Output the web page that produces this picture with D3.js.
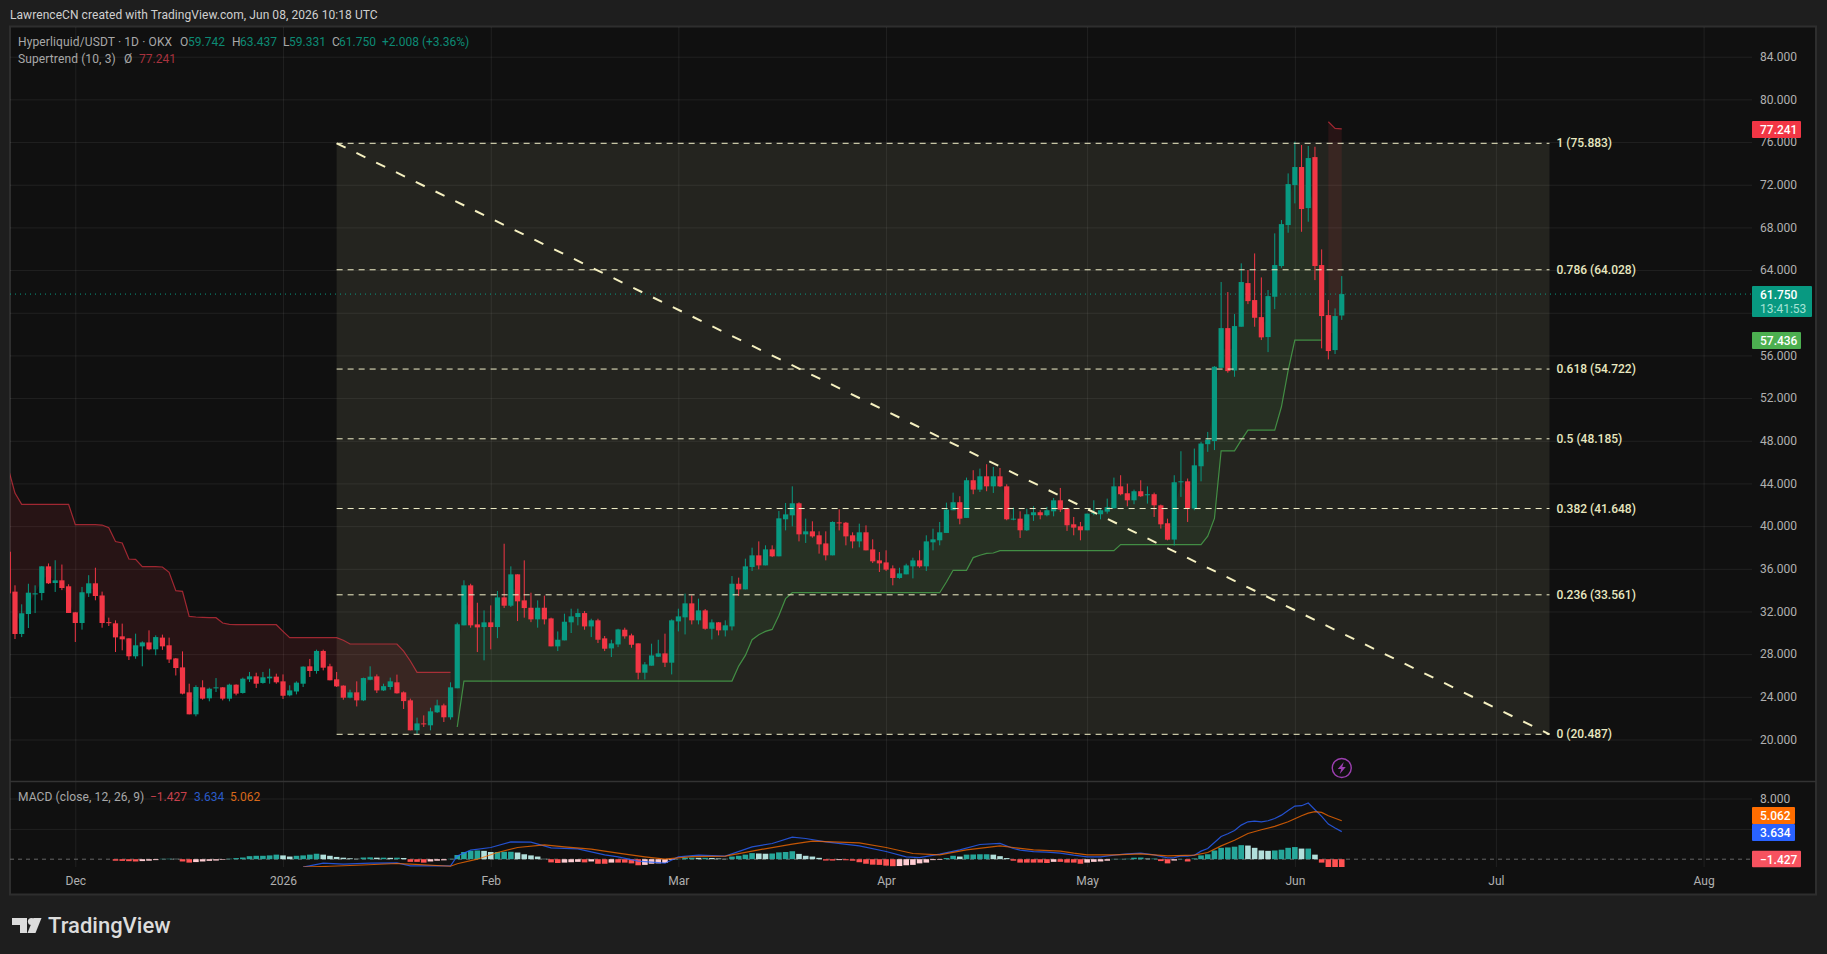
<!DOCTYPE html>
<html>
<head>
<meta charset="utf-8">
<script src="https://d3js.org/d3.v7.min.js"></script>
<style>
  html, body { margin: 0; background: #1e1e1e; }
  svg { display: block; }
  text { font-family: Roboto, "Noto Sans", sans-serif; font-size: 12px; }
  .domain { display: none; }
</style>
</head>
<body>
<svg id="chart" width="1827" height="954"></svg>
<script>
// daily candles, index 0 = 21 Nov 2025
var firstDay = Date.UTC(2025, 10, 21);

var opens = [37.6,33.86,29.89,31.76,33.6,33.73,36.23,34.67,34.92,34.36,
  31.92,30.92,33.7,34.64,33.5,31,30.89,29.67,29.48,27.8,
  28.73,29.1,28.45,29.55,28.83,27.6,26.76,24.42,22.36,24.89,
  23.86,24.8,24.89,23.83,25.14,24.36,25.64,25.92,25.3,25.73,
  25.89,25.45,24.14,24.5,25.23,26.86,26.42,28.3,26.86,25.64,
  25.05,23.92,24.42,23.67,25.6,25.92,24.6,24.92,25.36,24.42,
  23.67,20.86,21.51,21.33,22.55,23.2,22.08,24.8,30.7,34.45,
  30.79,30.54,30.98,30.54,33.32,32.54,35.48,33.04,32.35,31.26,
  32.35,31.35,28.73,29.29,30.98,31.48,31.85,30.6,31.17,29.48,
  28.54,28.91,30.29,29.76,29.01,26.26,26.92,27.76,28.07,27.2,
  31.07,31.45,32.76,31.17,32.1,30.38,30.98,30.23,30.6,34.6,
  34.07,36.17,37.26,36.32,37.82,37.17,40.64,41.01,42.14,39.23,
  39.51,39.14,38.38,37.26,40.35,40.32,39.14,38.57,39.42,37.82,
  36.79,36.6,36.04,35.14,35.48,36.23,36.79,36.23,38.48,38.67,
  39.36,41.49,42.24,40.77,44.3,43.42,44.67,43.73,44.67,43.73,
  40.64,40.7,39.61,41.02,41.3,41.02,41.39,42.42,41.67,40.17,
  39.98,39.61,41.17,41.11,41.36,41.67,43.73,43.08,42.42,43.27,
  42.89,42.99,41.95,40.27,38.74,44.11,44.2,41.64,45.61,47.68,
  47.97,54.84,58.56,54.59,58.69,62.78,61.19,59.59,57.72,61.5,
  64.38,68.22,71.97,73.66,69.81,74.59,64.47,59.78,56.5,59.742];

var highs = [38,34.45,32.67,34.6,34.45,36.26,36.5,36.8,36.4,34.55,
  31.95,34.3,35.4,36.1,33.86,31.42,31.17,30.86,29.5,29.92,
  29.2,30.23,29.76,29.83,29.55,27.64,28.26,25.23,25.08,25.55,
  24.86,25.76,24.92,25.23,25.17,25.8,26.33,26.26,26.33,26.64,
  26.17,26.1,25.08,25.45,26.86,27.55,28.42,28.42,27.1,26.33,
  25.08,24.67,25.45,25.8,26.86,26.1,25.23,25.8,26.08,24.51,
  23.83,22.05,22.26,22.98,23.73,23.36,25.36,30.95,34.92,34.6,
  32.82,32.1,32.57,33.92,38.35,36.23,35.48,36.79,33.76,33.04,
  33.48,31.42,30.13,31.79,32.26,32.26,32.04,31.32,31.32,29.7,
  29.35,30.38,30.48,29.92,29.01,27.26,28.98,29.35,29.92,31.26,
  32.26,33.67,33.51,33.2,32.23,31.26,31.01,31.17,35.32,35.17,
  36.95,37.98,38.57,38.2,38.2,41.42,42.17,43.73,42.23,40.7,
  40.45,39.51,39.51,40.45,41.57,40.39,39.42,40.23,40.07,38.76,
  37.57,37.73,36.32,36.1,36.48,37.04,37.73,39.14,39.76,40.39,
  42.2,43.14,42.8,44.55,45.24,45.39,45.8,45.55,45.45,43.92,
  41.73,41.39,41.64,41.86,41.49,41.8,42.64,43.58,41.73,40.86,
  40.39,41.17,42.42,41.58,42.58,44.55,44.77,43.98,43.42,44.3,
  43.73,43.14,42.02,40.7,44.77,47.02,44.46,47.27,47.9,48.83,
  55,62.88,61.94,59.88,64.63,64,65.56,63.31,62.13,67.44,
  68.69,73.06,76.03,75.72,75.63,75.56,65.94,61.19,60.41,63.437];

var lows = [33.5,29.42,29.6,30.45,31.85,33.05,34.58,33.83,34,31.86,
  29.14,30.3,33.36,33.05,30.48,30.64,28.2,28.36,27.45,27.57,
  26.86,28.36,27.9,28.4,27.17,26,24.23,22.36,22.17,23.73,
  23.58,24.45,23.67,23.58,24.14,24.3,25.39,24.83,25.23,25.23,
  25.23,23.8,24.05,24.23,24.92,25.86,26.17,26.48,25.55,24.92,
  23.73,23.86,23.1,23.6,25.55,24.36,24.55,24.67,24.3,22.86,
  20.86,20.48,21.17,20.86,22.48,21.64,21.86,24.8,30.7,30.48,
  28.2,27.42,28.45,29.5,32.32,32.42,31.1,31.42,31,30.48,
  30.79,28.73,28.29,29.29,29.98,30.7,30.29,29.6,29.04,28.29,
  27.73,28.66,29.45,28.6,25.63,25.63,26.92,27.73,26.79,26.1,
  30.13,29.85,30.79,30.79,30.29,29.38,29.76,29.66,30.23,33.45,
  34.07,35.79,35.95,36.32,37.1,37.17,39.6,39.98,38.57,38.42,
  38.92,37.42,36.79,37.26,39.6,38.2,37.92,38.01,37.73,36.54,
  35.7,35.79,34.45,35.07,35.48,35.1,36.1,35.79,37.73,38.2,
  39.36,41.49,40.17,40.77,42.99,43.2,43.27,43.11,43.67,40.55,
  40.55,38.89,39.55,40.49,40.64,40.92,40.92,41.33,39.55,39.14,
  38.67,39.61,41.02,40.64,41.17,41.64,42.89,41.86,42.05,42.74,
  42.11,40.86,39.77,38.67,38.18,42.74,40.39,41.49,44.2,46.96,
  47.13,54.84,54.38,54,58.69,60.81,58.69,57.44,56.31,60.34,
  64.22,67.5,70.25,67.59,68.53,63.06,56.66,55.63,56.13,59.331];

var closes = [33.7,29.89,31.83,33.76,33.7,36.23,34.64,34.92,34.2,31.86,
  30.92,33.8,34.64,33.45,30.92,30.92,29.57,29.39,27.8,28.83,
  29.1,28.45,29.6,28.73,27.5,26.7,24.3,22.36,24.92,23.83,
  24.76,24.89,23.83,25.14,24.3,25.7,25.92,25.23,25.83,25.89,
  25.36,24.1,24.6,25.33,26.83,26.42,28.3,26.73,25.55,24.98,
  23.92,24.42,23.67,25.76,25.89,24.6,25,25.45,24.33,23.6,
  20.86,21.51,21.42,22.64,23.2,22.08,24.89,30.8,34.45,30.7,
  30.51,30.98,30.54,33.32,32.54,35.48,32.95,32.32,31.26,32.35,
  31.26,28.73,29.35,31.04,31.54,31.85,30.6,31.17,29.35,28.51,
  29.01,30.32,29.67,28.88,26.26,27.04,27.88,28.07,27.2,31.17,
  31.54,32.76,31.17,32.1,30.38,30.98,30.23,30.7,34.6,34.07,
  36.23,37.26,36.32,37.82,37.17,40.73,41.1,42.14,39.23,39.51,
  39.04,38.29,37.26,40.39,40.26,39.04,38.57,39.42,37.73,36.7,
  36.51,35.92,35.14,35.57,36.32,36.79,36.23,38.57,38.76,39.42,
  41.55,42.24,40.7,44.3,43.42,44.67,43.73,44.67,43.73,40.64,
  40.7,39.61,41.11,41.3,41.02,41.49,42.42,41.55,40.08,39.86,
  39.61,41.17,41.27,41.49,41.77,43.73,42.99,42.42,43.27,42.8,
  42.99,41.95,40.17,38.73,44.11,44.2,41.64,45.7,47.74,48.11,
  54.94,58.56,54.53,58.75,62.88,61.09,59.53,57.69,61.56,64.47,
  68.31,72.06,73.66,69.72,74.5,64.38,59.69,56.41,59.69,61.75];

// supertrend, three runs of the band
var trendDownStart = 0;
var trendDown = [45.39,43.1,42.04,42.04,42.04,42.04,42.04,42.04,42.04,42.04,
  40.14,40.14,40.14,40.14,40.1,39.86,38.55,38.42,36.92,36.89,
  36.2,36.2,36.2,36.17,35.67,33.95,33.89,31.54,31.48,31.45,
  31.42,31.42,30.92,30.79,30.76,30.76,30.76,30.76,30.76,30.76,
  30.76,30.14,29.54,29.54,29.54,29.54,29.54,29.54,29.54,29.54,
  29.3,28.95,28.95,28.95,28.95,28.95,28.95,28.95,28.95,28.29,
  27.36,26.3,26.3,26.3,26.3,26.3,26.3];
var trendUpStart = 67;
var trendUp = [21.17,25.48,25.48,25.48,25.48,25.48,25.48,25.48,25.48,25.48,
  25.48,25.48,25.48,25.48,25.48,25.48,25.48,25.48,25.48,25.48,
  25.48,25.48,25.48,25.48,25.48,25.48,25.48,25.48,25.48,25.48,
  25.48,25.48,25.48,25.48,25.48,25.48,25.48,25.48,25.48,25.48,
  25.48,25.48,26.88,27.88,29.35,29.82,30.13,30.32,31.63,33.2,
  33.76,33.76,33.76,33.76,33.76,33.76,33.76,33.76,33.76,33.76,
  33.76,33.76,33.76,33.76,33.76,33.76,33.76,33.76,33.76,33.76,
  33.76,33.76,33.76,34.76,35.86,35.86,35.86,37.05,37.27,37.45,
  37.48,37.7,37.7,37.7,37.7,37.7,37.7,37.7,37.7,37.7,
  37.7,37.7,37.7,37.7,37.7,37.7,37.7,37.7,37.7,38.27,
  38.27,38.27,38.27,38.27,38.27,38.27,38.27,38.27,38.27,38.27,
  38.27,38.27,39.06,40.72,47.06,47.06,47.06,48.06,49,49,
  49,49,49,51.19,54.6,57.436,57.436,57.436,57.436,57.436];
var trendEndStart = 197;
var trendEnd = [77.9,77.28,77.241];

// fibonacci retracement drawing
var fibLevels = [1, 0.786, 0.618, 0.5, 0.382, 0.236, 0];
var fibPrices = [75.883, 64.028, 54.722, 48.185, 41.648, 33.561, 20.487];
var fibStart = Date.UTC(2026, 0, 9);
var fibEnd = Date.UTC(2026, 6, 9);

// macd pane, histogram starts at candle 16
var histStart = 16;
var macdHist = [-0.2,-0.22,-0.26,-0.3,-0.25,-0.2,-0.12,0.05,0.06,0.05,
  -0.3,-0.45,-0.38,-0.3,-0.22,-0.18,-0.08,0.06,0.15,0.22,
  0.4,0.45,0.45,0.5,0.6,0.5,0.35,0.45,0.5,0.6,
  0.72,0.6,0.45,0.3,0.2,0.12,0.06,0.22,0.24,0.2,
  0.2,0.18,0.2,0.16,-0.35,-0.35,-0.45,-0.3,-0.2,-0.15,
  0.05,0.55,0.95,1.1,1.15,1.1,0.95,0.95,0.98,0.98,
  0.88,0.65,0.5,0.35,0.05,-0.42,-0.5,-0.45,-0.4,-0.35,
  -0.42,-0.3,-0.6,-0.6,-0.45,-0.45,-0.45,-0.55,-0.8,-0.75,
  -0.6,-0.55,-0.5,-0.1,0.03,0.2,0.2,0.18,0.18,0.16,
  0.1,0.05,0.35,0.45,0.6,0.8,0.75,0.72,0.75,0.9,
  0.95,1.05,0.7,0.45,0.35,0.18,-0.18,-0.18,-0.12,-0.14,
  -0.2,-0.4,-0.6,-0.72,-0.75,-0.85,-0.92,-0.9,-0.8,-0.75,
  -0.55,-0.45,-0.12,-0.08,0.15,0.45,0.35,0.6,0.62,0.65,
  0.65,0.6,0.4,0.15,-0.2,-0.45,-0.45,-0.45,-0.45,-0.5,
  -0.35,-0.35,-0.45,-0.45,-0.6,-0.45,-0.35,-0.3,-0.2,0.04,
  0.04,0.06,0.2,0.22,0.08,0.08,-0.25,-0.55,-0.18,0.03,
  -0.3,0.1,0.5,0.65,1.15,1.5,1.55,1.65,1.85,1.8,
  1.5,1.15,1.1,1.15,1.25,1.5,1.6,1.4,1.4,0.6,
  -0.45,-1.1,-1.3,-1.427];

// [candle index, value]
var macdLine = [[44,-1.05],[47,-0.53],[50,-0.66],[54,-0.53],[58,-0.48],[60,-0.88],[66,-0.88],[67,0.44],
  [69,1.19],[72,1.54],[75,2.29],[78,2.25],[81,1.5],[85,1.37],[89,0.57],[91,0.3],[94,-0.26],[98,-0.53],
  [100,0.3],[103,0.53],[107,0.4],[111,1.63],[114,2.07],[117,2.9],[119,2.73],[122,2.29],[127,1.76],
  [131,1.01],[134,0.31],[136,0.22],[139,0.66],[142,1.23],[145,1.94],[148,2.09],[150,1.41],[151,1.19],
  [153,1.01],[155,0.93],[157,0.79],[159,0.53],[161,0.31],[163,0.31],[165,0.53],[167,0.7],[169,0.79],
  [171,0.57],[173,0.18],[174,0.22],[175,0.44],[176,0.4],[177,0.53],[178,1.06],[179,1.41],[180,2.2],
  [181,3],[182,3.35],[183,3.79],[184,4.49],[185,4.93],[186,5.02],[187,4.93],[188,5.07],[189,5.37],
  [190,5.81],[191,6.43],[192,7],[193,7.05],[194,7.4],[195,6.52],[196,5.64],[197,4.63],[198,4.1],[199,3.634]];
var signalLine = [[44,-1.05],[48,-0.93],[52,-0.8],[58,-0.57],[60,-0.66],[66,-0.93],[67,-0.6],[70,0],
  [73,0.88],[76,1.54],[80,1.89],[83,1.63],[87,1.32],[91,0.8],[95,0.31],[98,0],[102,0.35],[107,0.4],
  [112,1.23],[117,1.98],[120,2.38],[127,2.16],[131,1.54],[135,0.75],[139,0.57],[143,1.23],[148,1.76],
  [150,1.54],[153,1.23],[157,1.06],[159,0.79],[161,0.57],[165,0.57],[169,0.7],[173,0.44],[177,0.53],
  [179,0.88],[181,1.76],[183,2.5],[185,3.39],[187,3.88],[189,4.32],[191,4.93],[193,5.73],[194,6.08],
  [195,6.26],[196,6.17],[197,5.73],[199,5.062]];

// axes, 60.000 and the lower macd labels sit behind the price tags in the picture
var priceTicks = [84,80,76,72,68,64,60,56,52,48,44,40,36,32,28,24,20];
var priceLabels = [84,80,76,72,68,64,56,52,48,44,40,36,32,28,24,20];
var macdTicks = [8,4];
var macdLabels = [8];
var timeTicks = [Date.UTC(2025,11,1),Date.UTC(2026,0,1),Date.UTC(2026,1,1),Date.UTC(2026,2,1),Date.UTC(2026,3,1),
  Date.UTC(2026,4,1),Date.UTC(2026,5,1),Date.UTC(2026,6,1),Date.UTC(2026,7,1)];
var timeLabels = ["Dec","2026","Feb","Mar","Apr","May","Jun","Jul","Aug"];

var teal = "#089981", red = "#f23645";
var left = 10, right = 1752, top_ = 27, sep = 781.5, paneBottom = 867;

var svg = d3.select("#chart");
var x = d3.scaleUtc().domain([Date.UTC(2025,11,1), Date.UTC(2026,7,1)]).range([75.3, 1703.6]);
var y = d3.scaleLinear().domain([84, 20]).range([56.7, 739.5]);
var ym = d3.scaleLinear().domain([8, 0]).range([798.5, 859.2]);
function dayAt(i) { return firstDay + i * 86400000; }
function xi(i) { return x(dayAt(i)); }

var defs = svg.append("defs");
defs.append("clipPath").attr("id", "mainClip").append("rect")
    .attr("x", left).attr("y", top_).attr("width", right - left).attr("height", sep - top_);
defs.append("clipPath").attr("id", "macdClip").append("rect")
    .attr("x", left).attr("y", sep).attr("width", right - left).attr("height", paneBottom - sep);

// panes
svg.append("rect").attr("x", 10).attr("y", 26.5).attr("width", 1806).attr("height", 868)
    .attr("fill", "#101010").attr("stroke", "#2e2e2e").attr("stroke-width", 2);

// grid
function styleGrid(g) {
  g.select(".domain").remove();
  g.selectAll("line").attr("stroke", "#ffffff").attr("stroke-opacity", 0.07);
  g.selectAll("text").remove();
}
svg.append("g").attr("transform", "translate(0," + sep + ")")
    .call(d3.axisTop(x).tickValues(timeTicks).tickSize(sep - top_).tickFormat("")).call(styleGrid);
svg.append("g").attr("transform", "translate(0," + paneBottom + ")")
    .call(d3.axisTop(x).tickValues(timeTicks).tickSize(paneBottom - sep).tickFormat("")).call(styleGrid);
svg.append("g").attr("transform", "translate(" + right + ",0)")
    .call(d3.axisLeft(y).tickValues(priceTicks).tickSize(right - left).tickFormat("")).call(styleGrid);
svg.append("g").attr("transform", "translate(" + right + ",0)")
    .call(d3.axisLeft(ym).tickValues(macdTicks).tickSize(right - left).tickFormat("")).call(styleGrid);

// separator
svg.append("line").attr("x1", 10).attr("x2", 1816).attr("y1", sep).attr("y2", sep)
    .attr("stroke", "#333").attr("stroke-width", 1.5);

var main = svg.append("g").attr("clip-path", "url(#mainClip)");

// fib box under the candles
main.append("rect")
    .attr("x", x(fibStart)).attr("width", x(fibEnd) - x(fibStart))
    .attr("y", y(fibPrices[0])).attr("height", y(fibPrices[6]) - y(fibPrices[0]))
    .attr("fill", "#d8d8a8").attr("fill-opacity", 0.1);

// supertrend fills and lines
function bodyMid(i) { return (opens[i] + closes[i]) / 2; }
function drawTrend(values, start, color, fillOp, lineOp) {
  var rows = values.map(function(v, j) { return {i: start + j, v: v}; });
  main.append("path").datum(rows)
      .attr("fill", color).attr("fill-opacity", fillOp)
      .attr("d", d3.area()
        .x(function(d) { return xi(d.i); })
        .y0(function(d) { return y(bodyMid(d.i)); })
        .y1(function(d) { return y(d.v); }));
  main.append("path").datum(rows)
      .attr("fill", "none").attr("stroke", color).attr("stroke-opacity", lineOp).attr("stroke-width", 1.2)
      .attr("d", d3.line()
        .x(function(d) { return xi(d.i); })
        .y(function(d) { return y(d.v); }));
}
drawTrend(trendDown, trendDownStart, red, 0.1, 0.62);
drawTrend(trendUp, trendUpStart, "#4caf50", 0.09, 0.75);
drawTrend(trendEnd, trendEndStart, red, 0.1, 0.62);

// last price
main.append("line").attr("x1", left).attr("x2", right)
    .attr("y1", y(closes[199])).attr("y2", y(closes[199]))
    .attr("stroke", teal).attr("stroke-dasharray", "1 4");

// candles
var rows = d3.range(opens.length);
var candles = main.append("g").selectAll("g").data(rows).enter().append("g")
    .attr("fill", function(i) { return closes[i] >= opens[i] ? teal : red; })
    .attr("stroke", function(i) { return closes[i] >= opens[i] ? teal : red; });
candles.append("line")
    .attr("x1", xi).attr("x2", xi)
    .attr("y1", function(i) { return y(highs[i]); })
    .attr("y2", function(i) { return y(lows[i]); });
candles.append("rect")
    .attr("stroke", "none")
    .attr("x", function(i) { return xi(i) - 2.6; })
    .attr("width", 5.2)
    .attr("y", function(i) { return y(Math.max(opens[i], closes[i])); })
    .attr("height", function(i) { return Math.max(1, Math.abs(y(opens[i]) - y(closes[i]))); });

// fib level lines and the trend line
main.append("g").selectAll("line").data(fibPrices).enter().append("line")
    .attr("x1", x(fibStart)).attr("x2", x(fibEnd))
    .attr("y1", y).attr("y2", y)
    .attr("stroke", "#f2f0c8").attr("stroke-width", 1).attr("stroke-dasharray", "6 5");
main.append("line")
    .attr("x1", x(fibStart)).attr("y1", y(fibPrices[0]))
    .attr("x2", x(fibEnd)).attr("y2", y(fibPrices[6]))
    .attr("stroke", "#f5f0c0").attr("stroke-width", 2).attr("stroke-dasharray", "10 12");
svg.append("g").selectAll("text").data(fibPrices).enter().append("text")
    .attr("x", x(fibEnd) + 7).attr("y", function(d) { return y(d) + 4; })
    .attr("fill", "#e8e8c0").attr("font-weight", 500)
    .text(function(d, i) { return fibLevels[i] + " (" + d.toFixed(3) + ")"; });

// macd
var macd = svg.append("g").attr("clip-path", "url(#macdClip)");
macd.append("line").attr("x1", left).attr("x2", right).attr("y1", ym(0)).attr("y2", ym(0))
    .attr("stroke", "#666").attr("stroke-dasharray", "4 4");
macd.append("g").selectAll("rect").data(macdHist).enter().append("rect")
    .attr("x", function(d, j) { return xi(histStart + j) - 2.8; })
    .attr("width", 5.6)
    .attr("y", function(d) { return ym(Math.max(d, 0)); })
    .attr("height", function(d) { return Math.abs(ym(d) - ym(0)); })
    .attr("fill", function(d, j) {
      var prev = j > 0 ? macdHist[j - 1] : 0;
      if (d >= 0) return d >= prev ? "#26a69a" : "#b2dfdb";
      return d <= prev ? "#ff5252" : "#ffcdd2";
    });
var macdPath = d3.line()
    .x(function(d) { return xi(d[0]); })
    .y(function(d) { return ym(d[1]); });
macd.append("path").datum(macdLine).attr("fill", "none").attr("stroke", "#2962ff")
    .attr("stroke-opacity", 0.8).attr("stroke-width", 1.2).attr("d", macdPath);
macd.append("path").datum(signalLine).attr("fill", "none").attr("stroke", "#ff6d00")
    .attr("stroke-opacity", 0.75).attr("stroke-width", 1.2).attr("d", macdPath);

// axes labels
function styleAxis(g) {
  g.select(".domain").remove();
  g.selectAll("text").attr("fill", "#b0b0b0").style("font-size", "12px");
}
svg.append("g").attr("transform", "translate(" + right + ",0)")
    .call(d3.axisRight(y).tickValues(priceLabels).tickSize(0).tickPadding(8)
      .tickFormat(function(d) { return d.toFixed(3); })).call(styleAxis);
svg.append("g").attr("transform", "translate(" + right + ",0)")
    .call(d3.axisRight(ym).tickValues(macdLabels).tickSize(0).tickPadding(8)
      .tickFormat(function(d) { return d.toFixed(3); })).call(styleAxis);
svg.append("g").attr("transform", "translate(0," + paneBottom + ")")
    .call(d3.axisBottom(x).tickValues(timeTicks).tickSize(0).tickPadding(9)
      .tickFormat(function(d, i) { return timeLabels[i]; })).call(styleAxis);

// price tags
function tag(value, w, h, color, label) {
  var g = svg.append("g").attr("transform", "translate(" + right + "," + value + ")");
  g.append("rect").attr("y", -h / 2).attr("width", w).attr("height", h).attr("fill", color).attr("rx", 1);
  g.append("text").attr("x", 8).attr("y", 4.5).attr("fill", "#fff").attr("font-weight", 500).text(label);
  return g;
}
tag(129.4, 49, 17, "#f23645", "77.241");
var lastTag = svg.append("g").attr("transform", "translate(" + right + ",286)");
lastTag.append("rect").attr("width", 60).attr("height", 31).attr("fill", teal).attr("rx", 1);
lastTag.append("text").attr("x", 8).attr("y", 13).attr("fill", "#fff").attr("font-weight", 500).text("61.750");
lastTag.append("text").attr("x", 8).attr("y", 27).attr("fill", "#a6e3d6").text("13:41:53");
tag(340.5, 49, 17, "#4caf50", "57.436");
tag(815.5, 43, 17, "#ff6d00", "5.062");
tag(832.5, 43, 17, "#2962ff", "3.634");
tag(859, 49, 16.5, "#f7525f", "\u22121.427");

// header and legends
svg.append("text").attr("x", 10).attr("y", 19).attr("fill", "#d0d0d0")
    .style("letter-spacing", "0.06px").text("LawrenceCN created with TradingView.com, Jun 08, 2026 10:18 UTC");

var legendGrey = "#a8a8a8", legendTeal = "#0c8a74";
var legendItems = [
  ["Hyperliquid/USDT \u00b7 1D \u00b7 OKX", 18, 46, legendGrey],
  ["O", 180, 46, legendGrey], ["59.742", 188, 46, legendTeal],
  ["H", 232, 46, legendGrey], ["63.437", 240, 46, legendTeal],
  ["L", 283, 46, legendGrey], ["59.331", 289, 46, legendTeal],
  ["C", 332, 46, legendGrey], ["61.750", 339, 46, legendTeal],
  ["+2.008 (+3.36%)", 382, 46, legendTeal],
  ["Supertrend (10, 3)", 18, 63, legendGrey],
  ["\u00d8", 124, 63, legendGrey], ["77.241", 139, 63, "#a8323e"],
  ["MACD (close, 12, 26, 9)", 18, 801, legendGrey],
  ["\u22121.427", 150, 801, "#c8404c"], ["3.634", 194, 801, "#2a5bc8"], ["5.062", 230, 801, "#d8691a"]
];
svg.append("g").selectAll("text").data(legendItems).enter().append("text")
    .attr("x", function(d) { return d[1]; }).attr("y", function(d) { return d[2]; })
    .attr("fill", function(d) { return d[3]; })
    .style("letter-spacing", function(d) { return d[3] === legendGrey ? "0.12px" : null; })
    .text(function(d) { return d[0]; });

// bolt marker
var bolt = svg.append("g").attr("transform", "translate(" + xi(199) + ",768)");
bolt.append("circle").attr("r", 9.5).attr("fill", "none").attr("stroke", "#9c3fb0").attr("stroke-width", 1.4);
bolt.append("path").attr("d", "M2,-6 L-4,1 L-0.5,1 L-2,6 L4,-1 L0.5,-1 Z").attr("fill", "#9c3fb0");

// logo
var logo = svg.append("g").attr("fill", "#dcdcdc").attr("transform", "translate(0,2)");
logo.append("path").attr("d", "M12,916 H27 V931 H20 V923 H12 Z");
logo.append("circle").attr("cx", 31.5).attr("cy", 919.5).attr("r", 3.6);
logo.append("path").attr("d", "M41.5,916 L35.5,931 H27.5 L33.5,916 Z");
logo.append("text").attr("x", 48).attr("y", 931).attr("font-weight", 500).style("font-size", "22px").text("TradingView");
</script>
</body>
</html>
